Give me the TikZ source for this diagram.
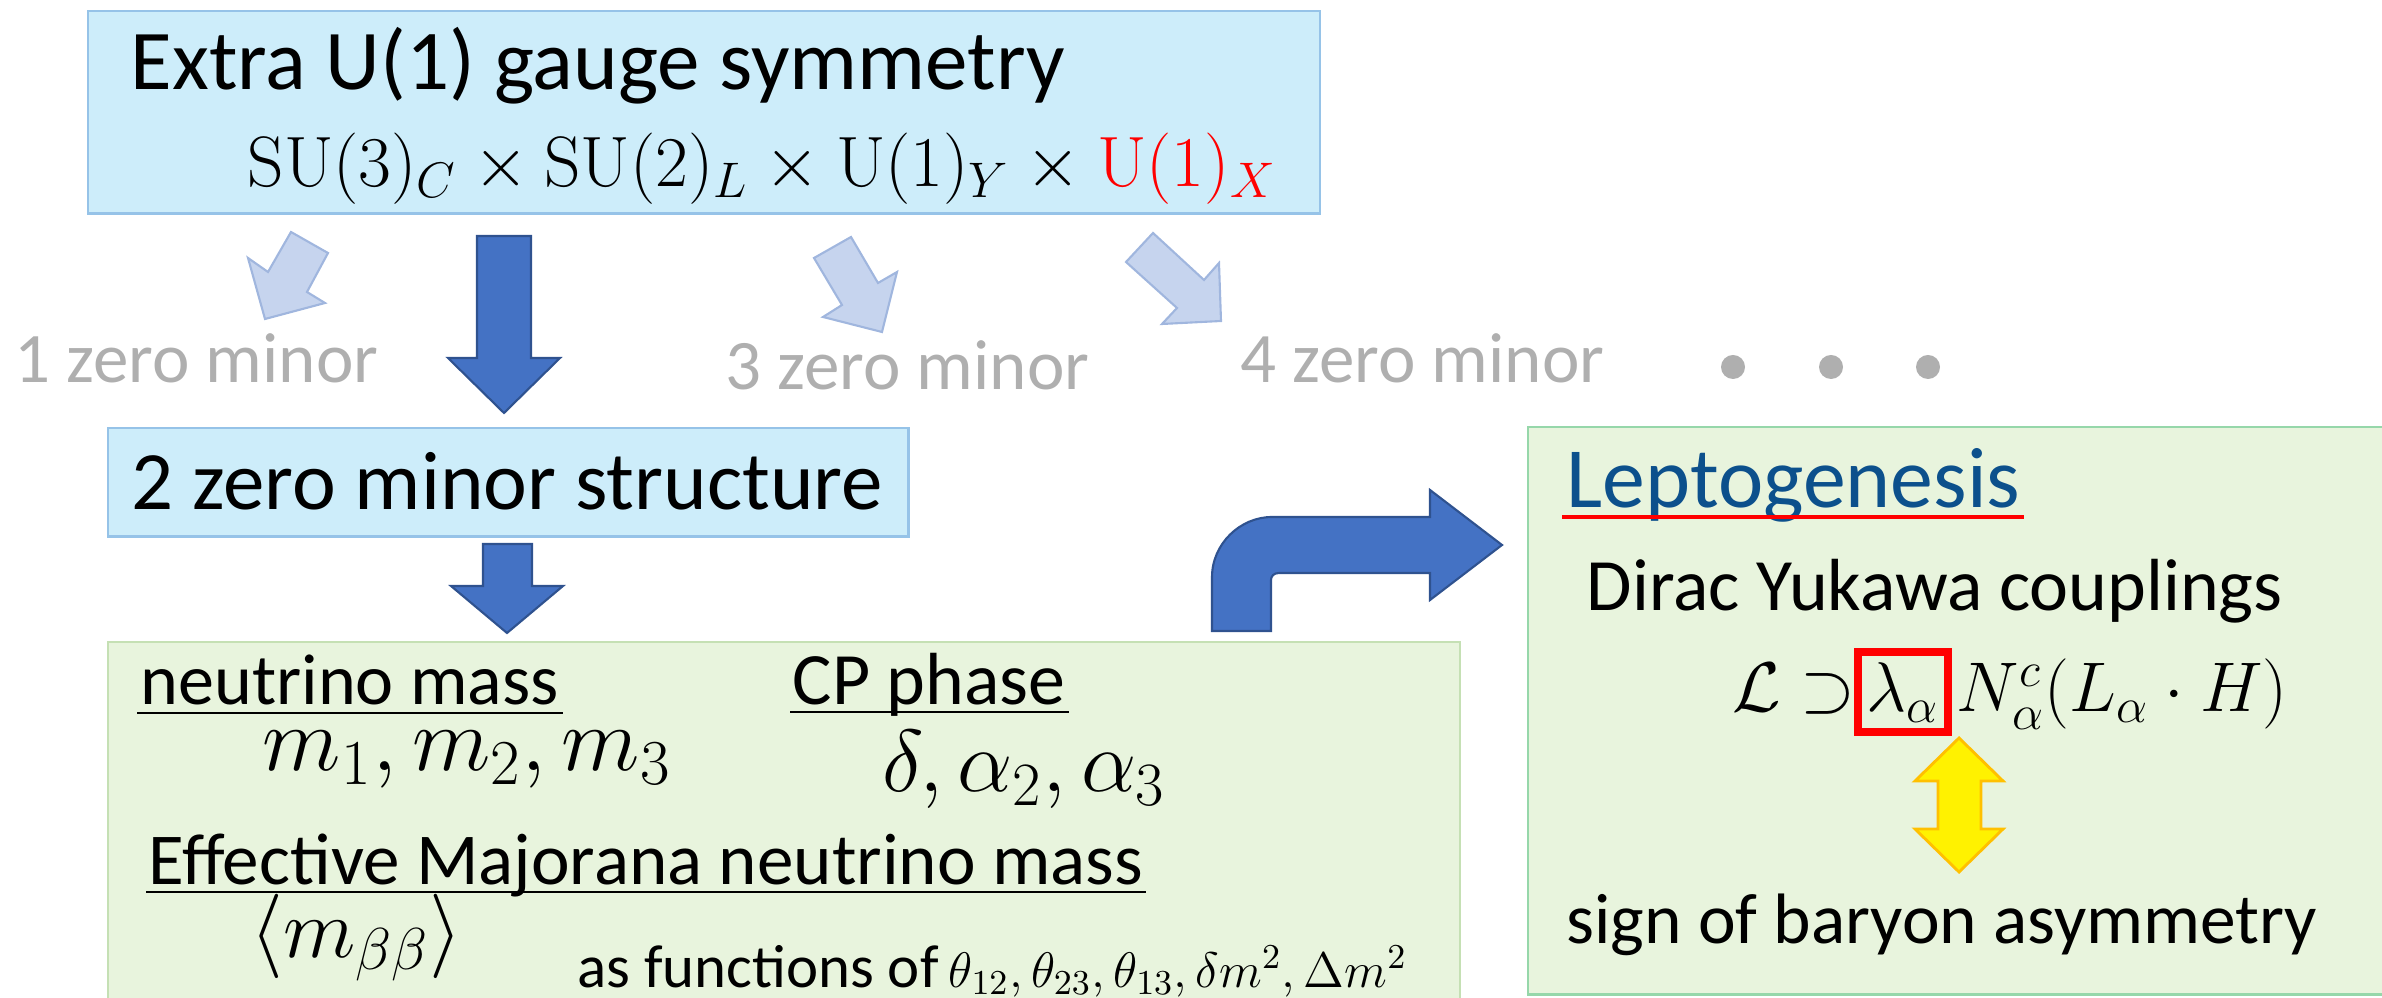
\RequirePackage{fix-cm}
\documentclass[tikz,border=0pt]{standalone}
\usepackage[no-math]{fontspec}
\setmainfont{Carlito}
\usetikzlibrary{calc}

\definecolor{skyfill}{RGB}{205,237,250}
\definecolor{skyline}{RGB}{150,195,232}
\definecolor{leaf}{RGB}{232,244,221}
\definecolor{leafline}{RGB}{197,224,180}
\definecolor{mintline}{RGB}{150,215,170}
\definecolor{arrowfill}{RGB}{68,114,196}
\definecolor{arrowline}{RGB}{47,82,143}
\definecolor{palefill}{RGB}{198,212,238}
\definecolor{paleline}{RGB}{160,182,222}
\definecolor{mist}{RGB}{175,175,175}
\definecolor{navy}{RGB}{12,80,140}
\definecolor{gold}{RGB}{255,192,0}

\newcommand{\fsz}[1]{\fontsize{#1}{#1}\selectfont}

\tikzset{
  txt/.style={inner sep=0pt, anchor=base west},
  skybox/.style={fill=skyfill, draw=skyline, line width=0.7pt, anchor=north west, inner sep=0pt},
  leafbox/.style={fill=leaf, draw=leafline, line width=0.7pt, anchor=north west, inner sep=0pt},
  mintbox/.style={fill=leaf, draw=mintline, line width=0.7pt, anchor=north west, inner sep=0pt},
  darkarrow/.style={fill=arrowfill, draw=arrowline, line width=0.6pt, line join=miter},
  palearrow/.style={fill=palefill, draw=paleline, line width=0.6pt, line join=miter},
  midtext/.style={txt, font=\fsz{20.5pt}},
  greytext/.style={txt, font=\fsz{20.2pt}, text=mist},
  underline/.style={line width=0.75pt},
  dot/.style={circle, fill=mist, inner sep=0pt, minimum width=0.23cm, minimum height=0.24cm}
}

\begin{document}
\begin{tikzpicture}[x=0.01cm, y=-0.01cm]
\useasboundingbox (0,0) rectangle (2382,998);
\clip (0,0) rectangle (2382,998);

% ---- boxes ----
\node[skybox, minimum width=12.31cm, minimum height=2.02cm] (topbox) at (87,10) {};
\node[skybox, minimum width=8.00cm, minimum height=1.08cm] (twobox) at (107,427) {};
\node[leafbox, minimum width=13.51cm, minimum height=3.80cm] (massbox) at (107,641) {};
\node[mintbox, minimum width=8.70cm, minimum height=5.67cm] (leptobox) at (1527,426) {};

% ---- gauge symmetry ----
\node[txt, font=\fsz{24.2pt}] (title) at (130,90) {Extra U(1) gauge symmetry};
\node[txt, font=\fsz{20.3pt}] (group) at (247,187)
  {$\mathrm{SU}(3)_C\times\mathrm{SU}(2)_L\times\mathrm{U}(1)_Y\times{\color{red}\mathrm{U}(1)_X}$};

% ---- pale arrows towards other textures ----
\draw[palearrow] (291,232) -- (328,253) -- (307,292) -- (325,303) -- (265,319)
  -- (248,258) -- (268,272) -- cycle;
\draw[palearrow] (851,237) -- (878,283) -- (897,272) -- (882,332) -- (823,317)
  -- (842,305) -- (814,258) -- cycle;
\draw[palearrow] (1153,233) -- (1204,280) -- (1219,263) -- (1221,321) -- (1162,324)
  -- (1177,308) -- (1126,262) -- cycle;

% ---- main arrow ----
\draw[darkarrow] (477,236) -- (531,236) -- (531,358) -- (560,358) -- (504,413)
  -- (448,358) -- (477,358) -- cycle;

% ---- zero minor labels ----
\node[greytext] (one) at (14,383) {1 zero minor};
\node[greytext] (three) at (725,390) {3 zero minor};
\node[greytext] (four) at (1240,383) {4 zero minor};
\node[dot] (dotA) at (1733,367) {};
\node[dot] (dotB) at (1831,367) {};
\node[dot] (dotC) at (1928,367) {};

% ---- two zero minor ----
\node[txt, font=\fsz{23.6pt}] (two) at (131,510) {2 zero minor structure};
\draw[darkarrow] (483,544) -- (532,544) -- (532,586) -- (563,586) -- (507,633)
  -- (451,586) -- (483,586) -- cycle;

% ---- predictions ----
\node[midtext] (nmass) at (140,705) {neutrino mass};
\draw[underline] ($(nmass.base west)+(-3,8)$) -- ($(nmass.base east)+(3,8)$);
\node[txt, font=\fsz{21pt}] (cp) at (792,705) {CP phase};
\draw[underline] ($(cp.base west)+(-2,7)$) -- ($(cp.base east)+(3,7)$);
\node[txt, font=\fsz{26pt}] (masses) at (262,771) {$m_1,m_2,m_3$};
\node[txt, font=\fsz{25pt}] (phases) at (882,792) {$\delta,\alpha_2,\alpha_3$};
\node[txt, font=\fsz{20.8pt}] (eff) at (148,885) {Effective Majorana neutrino mass};
\draw[underline] ($(eff.base west)+(-2,7)$) -- ($(eff.base east)+(2,7)$);
\node[txt, font=\fsz{24pt}] (mbb) at (250,957) {$\langle m_{\beta\beta}\rangle$};
\node[txt, font=\fsz{17.3pt}] (func) at (577,987)
  {as functions of\hspace{0.1cm}{\fsz{14.2pt}$\theta_{12},\theta_{23},\theta_{13},\delta m^2,\Delta m^2$}};

% ---- bent arrow to leptogenesis ----
\draw[darkarrow] (1212,631) -- (1212,577) .. controls (1212,544) and (1240,517) .. (1272,517)
  -- (1430,517) -- (1430,490) -- (1502,545) -- (1430,600) -- (1430,573)
  -- (1279,573) .. controls (1274,573) and (1271,576) .. (1271,580) -- (1271,631) -- cycle;

% ---- leptogenesis ----
\node[txt, font=\fsz{24.4pt}, text=navy] (lepto) at (1566,508) {Leptogenesis};
\draw[red, line width=1.4pt] ($(lepto.base west)+(-4,9)$) -- ($(lepto.base east)+(3,9)$);
\node[txt, font=\fsz{21pt}] (dirac) at (1586,611) {Dirac Yukawa couplings};

\node[inner sep=0pt, anchor=base, font=\fsz{20pt}] (lam) at (1903,712) {$\lambda_\alpha$};
\node[inner sep=0pt, anchor=base east, font=\fsz{20pt}] (lhs) at ($(lam.base west)+(-10,0)$)
  {$\mathcal{L}\supset$};
\node[inner sep=0pt, anchor=base west, font=\fsz{20pt}] (rhs) at ($(lam.base east)+(16,0)$)
  {$N^c_\alpha(L_\alpha\cdot H)$};
\draw[red, line width=2.3pt] ($(lam.base)+(-45,-60)$) rectangle ($(lam.base)+(45,20)$);

\draw[fill=yellow, draw=gold, line width=0.8pt, line join=miter]
  (1959,738) -- (2003,781) -- (1981,781) -- (1981,829) -- (2003,829) -- (1959,872)
  -- (1915,829) -- (1938,829) -- (1938,781) -- (1915,781) -- cycle;

\node[txt, font=\fsz{20.3pt}] (sign) at (1566,943) {sign of baryon asymmetry};
\end{tikzpicture}
\end{document}
